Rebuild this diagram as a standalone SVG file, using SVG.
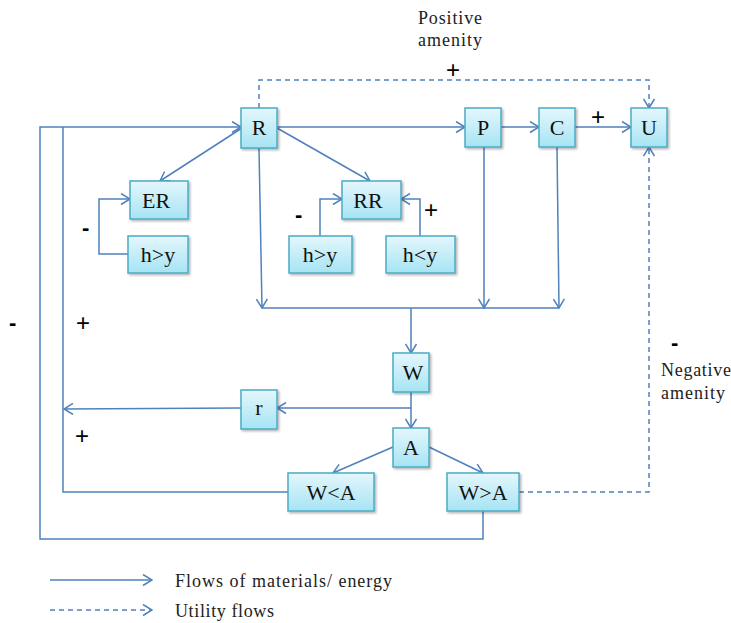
<svg xmlns="http://www.w3.org/2000/svg" width="731" height="623" viewBox="0 0 731 623">
  <defs>
    <linearGradient id="boxFill" x1="0" y1="0" x2="0" y2="1">
      <stop offset="0" stop-color="#e4f7fc"/>
      <stop offset="1" stop-color="#a6e4f4"/>
    </linearGradient>
    <filter id="shadow" x="-20%" y="-20%" width="150%" height="150%">
      <feDropShadow dx="1.5" dy="1.5" stdDeviation="1" flood-color="#000" flood-opacity="0.3"/>
    </filter>
    <marker id="arrow" markerUnits="userSpaceOnUse" markerWidth="11" markerHeight="13" viewBox="0 0 11 13" refX="10" refY="6.5" orient="auto">
      <path d="M1,1 L10,6.5 L1,12" fill="none" stroke="#4f81bd" stroke-width="1.5"/>
    </marker>
  </defs>
  <style>
    .box { fill: url(#boxFill); stroke: #4bacc6; stroke-width: 1.5; filter: url(#shadow); }
    .lbl { font-family: "Liberation Serif", serif; font-size: 22px; fill: #111; text-anchor: middle; }
    .txt { font-family: "Liberation Serif", serif; font-size: 18px; fill: #222; }
    .sign { font-family: "Liberation Sans", sans-serif; font-size: 24px; fill: #000; }
    .dash { font-family: "Liberation Sans", sans-serif; font-size: 22px; font-weight: bold; fill: #000; }
    .flow { fill: none; stroke: #4f81bd; stroke-width: 1.5; }
    .util { fill: none; stroke: #4f81bd; stroke-width: 1.5; stroke-dasharray: 5 4; }
  </style>

  <!-- connectors -->
  <g id="connectors">
    <!-- main chain -->
    <path class="flow" d="M277,127 L465,127" marker-end="url(#arrow)"/>
    <path class="flow" d="M501,127 L539,127" marker-end="url(#arrow)"/>
    <path class="flow" d="M575,127 L631,127" marker-end="url(#arrow)"/>
    <!-- positive amenity -->
    <path class="util" d="M259,108 L259,80 L649,80 L649,108" marker-end="url(#arrow)"/>
    <!-- R to ER and RR -->
    <path class="flow" d="M242,128 L160,181" marker-end="url(#arrow)"/>
    <path class="flow" d="M277,128 L370,181" marker-end="url(#arrow)"/>
    <!-- feedbacks into ER and RR -->
    <path class="flow" d="M128,254 L99,254 L99,199 L130,199" marker-end="url(#arrow)"/>
    <path class="flow" d="M320,236 L320,199 L342,199" marker-end="url(#arrow)"/>
    <path class="flow" d="M420,236 L420,199 L401,199" marker-end="url(#arrow)"/>
    <!-- flows into waste -->
    <path class="flow" d="M259,148 L262,308" marker-end="url(#arrow)"/>
    <path class="flow" d="M484,147 L484,308" marker-end="url(#arrow)"/>
    <path class="flow" d="M557,147 L559,308" marker-end="url(#arrow)"/>
    <path class="flow" d="M262,308 L559,308"/>
    <path class="flow" d="M411,308 L411,353" marker-end="url(#arrow)"/>
    <!-- W to A and recycling -->
    <path class="flow" d="M411,392 L411,428" marker-end="url(#arrow)"/>
    <path class="flow" d="M411,408 L277,408" marker-end="url(#arrow)"/>
    <path class="flow" d="M241,408 L64,409" marker-end="url(#arrow)"/>
    <!-- A split -->
    <path class="flow" d="M393,447 L333,473" marker-end="url(#arrow)"/>
    <path class="flow" d="M429,447 L483,473" marker-end="url(#arrow)"/>
    <!-- return loops to R -->
    <path class="flow" d="M288,492 L63,492 L63,127"/>
    <path class="flow" d="M483,511 L483,539 L40,539 L40,127 L241,127" marker-end="url(#arrow)"/>
    <!-- negative amenity -->
    <path class="util" d="M519,492 L649,492 L649,147" marker-end="url(#arrow)"/>
    <!-- legend -->
    <path class="flow" d="M50,580 L152,580" marker-end="url(#arrow)"/>
    <path class="util" d="M50,610 L152,610" marker-end="url(#arrow)"/>
  </g>

  <!-- nodes -->
  <g id="node-R"><rect class="box" x="241" y="108" width="36" height="40"/><text class="lbl" x="259" y="135">R</text></g>
  <g id="node-P"><rect class="box" x="465" y="108" width="36" height="39"/><text class="lbl" x="483" y="135">P</text></g>
  <g id="node-C"><rect class="box" x="539" y="108" width="36" height="39"/><text class="lbl" x="557" y="135">C</text></g>
  <g id="node-U"><rect class="box" x="631" y="108" width="36" height="39"/><text class="lbl" x="649" y="135">U</text></g>
  <g id="node-ER"><rect class="box" x="130" y="181" width="58" height="38"/><text class="lbl" x="156" y="208">ER</text></g>
  <g id="node-hy1"><rect class="box" x="128" y="236" width="60" height="37"/><text class="lbl" x="158" y="262">h&gt;y</text></g>
  <g id="node-RR"><rect class="box" x="342" y="181" width="59" height="38"/><text class="lbl" x="368" y="208">RR</text></g>
  <g id="node-hy2"><rect class="box" x="289" y="236" width="63" height="37"/><text class="lbl" x="320" y="262">h&gt;y</text></g>
  <g id="node-hy3"><rect class="box" x="386" y="236" width="69" height="37"/><text class="lbl" x="420" y="262">h&lt;y</text></g>
  <g id="node-W"><rect class="box" x="393" y="353" width="36" height="39"/><text class="lbl" x="413" y="380">W</text></g>
  <g id="node-r"><rect class="box" x="241" y="390" width="36" height="39"/><text class="lbl" x="259" y="415">r</text></g>
  <g id="node-A"><rect class="box" x="393" y="428" width="36" height="39"/><text class="lbl" x="411" y="455">A</text></g>
  <g id="node-WltA"><rect class="box" x="288" y="473" width="86" height="38"/><text class="lbl" x="331" y="500">W&lt;A</text></g>
  <g id="node-WgtA"><rect class="box" x="447" y="473" width="72" height="38"/><text class="lbl" x="483" y="500">W&gt;A</text></g>

  <!-- labels -->
  <g id="labels">
    <text class="txt" x="418" y="24" textLength="64">Positive</text>
    <text class="txt" x="418" y="46" textLength="64">amenity</text>
    <text class="txt" x="661" y="376" textLength="70">Negative</text>
    <text class="txt" x="661" y="399" textLength="64">amenity</text>
    <text class="sign" x="446" y="78">+</text>
    <text class="sign" x="591" y="125">+</text>
    <text class="sign" x="424" y="218">+</text>
    <text class="sign" x="76" y="331">+</text>
    <text class="sign" x="75" y="444">+</text>
    <text class="dash" x="82" y="235">-</text>
    <text class="dash" x="295" y="222">-</text>
    <text class="dash" x="9" y="330">-</text>
    <text class="dash" x="671" y="350">-</text>
    <text class="txt" x="175" y="587" textLength="217">Flows of materials/ energy</text>
    <text class="txt" x="175" y="617" textLength="99">Utility flows</text>
  </g>
</svg>
